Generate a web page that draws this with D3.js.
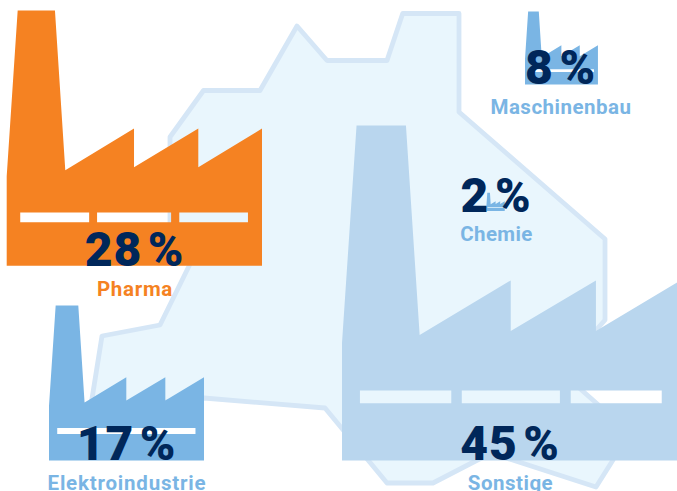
<!DOCTYPE html>
<html>
<head>
<meta charset="utf-8">
<script src="https://cdn.jsdelivr.net/npm/d3@7"></script>
<style>
  html, body { margin: 0; padding: 0; background: #fff; }
  svg { display: block; }
  text { font-family: Roboto, sans-serif; font-weight: 700; text-anchor: middle; }
  text.share { font-weight: 900; }
</style>
</head>
<body>
<div id="chart-area"></div>
<script>
// DATA
var categories = ["Sonstige", "Pharma", "Elektroindustrie", "Maschinenbau", "Chemie"];
var shares = [45, 28, 17, 8, 2];

// LAYOUT (one entry per category)
var factoryLeft = [342, 6.7, 49, 525, 486.5];
var factoryBottom = [460.5, 265.8, 460.5, 84.5, 211];
var factoryStretch = [1.01, 1, 1, 1, 1];
var factoryColor = ["#b9d6ee", "#f58222", "#7ab5e4", "#7ab5e4", "#7ab5e4"];
var labelColor = ["#7ab5e4", "#f58222", "#7ab5e4", "#7ab5e4", "#7ab5e4"];
var textCenter = [510, 134.5, 126.5, 560.5, 496];
var textBottom = [460, 265.5, 460, 83.5, 211.5];
var labelBottom = [490, 295.5, 489.5, 113.5, 240.5];
var labelSpacing = [0.5, 0.7, 0.8, 0.5, 0.4];
var splitWindows = [true, true, false, false, false];

var width = 677;
var height = 491;

// background shape, page coordinates
var outline = [[170,137],[203.5,90.5],[260,90.5],[297,26],[327,60.5],[387,60.5],[402.7,13.5],[459,13.5],[459,112],
  [605,239],[605,320],[560,371],[620,424],[613,460],[596,487],[491,453],[433,483],[387,483],[325,408],[204,398],
  [140,405],[91,405],[102,336],[160,325],[192,260],[170,225]];

// factory silhouette in a unit square
var factoryShape = [[0,0.649],[0.043,0],[0.189,0],[0.2295,0.6255],[0.4987,0.4624],[0.4987,0.6137],[0.7505,0.4624],
  [0.7505,0.6137],[1,0.4624],[1,1],[0,1]];
var windowTop = 0.791;
var windowBottom = 0.829;
var windowsSplit = [[0.053,0.323],[0.354,0.644],[0.676,0.945]];
var windowsWhole = [[0.053,0.945]];

var svg = d3.select("#chart-area")
    .append("svg")
    .attr("width", width)
    .attr("height", height);

// size of the factory follows the share
var size = d3.scaleLinear()
    .domain([0, 28, 45])
    .range([0, 255.3, 335]);

var line = d3.line();

//MAP
svg.append("path")
    .attr("d", line(outline) + "Z")
    .attr("fill", "#e9f6fd")
    .attr("stroke", "#d5e6f6")
    .attr("stroke-width", 4.8)
    .attr("stroke-linejoin", "round");

//FACTORIES
var factories = categories.map((d, i) => i);

svg.selectAll("path.factory").data(factories)
    .enter()
    .append("path")
    .attr("class", "factory")
    .attr("fill", (i) => factoryColor[i])
    .attr("fill-rule", "evenodd")
    .attr("d", (i) => {
        var s = size(shares[i]);
        var x = d3.scaleLinear().domain([0, 1]).range([factoryLeft[i], factoryLeft[i] + s * factoryStretch[i]]);
        var y = d3.scaleLinear().domain([0, 1]).range([factoryBottom[i] - s, factoryBottom[i]]);
        var unit = d3.line().x((p) => x(p[0])).y((p) => y(p[1]));
        var windows = splitWindows[i] ? windowsSplit : windowsWhole;
        var d = unit(factoryShape) + "Z";
        windows.forEach((w) => {
            d += unit([[w[0], windowTop], [w[1], windowTop], [w[1], windowBottom], [w[0], windowBottom]]) + "Z";
        });
        return d;
    });

//PERCENT
svg.selectAll("text.share").data(factories)
    .enter()
    .append("text")
    .attr("class", "share")
    .attr("x", (i) => textCenter[i])
    .attr("y", (i) => textBottom[i])
    .attr("font-size", "48px")
    .attr("letter-spacing", "0.8px")
    .attr("fill", "#00275a")
    .text((i) => shares[i] + "\u200a%");

//LABELS
svg.selectAll("text.label").data(factories)
    .enter()
    .append("text")
    .attr("class", "label")
    .attr("x", (i) => textCenter[i] + 0.5)
    .attr("y", (i) => labelBottom[i])
    .attr("font-size", "20.5px")
    .attr("letter-spacing", (i) => labelSpacing[i] + "px")
    .attr("fill", (i) => labelColor[i])
    .text((i) => categories[i]);
</script>
</body>
</html>
